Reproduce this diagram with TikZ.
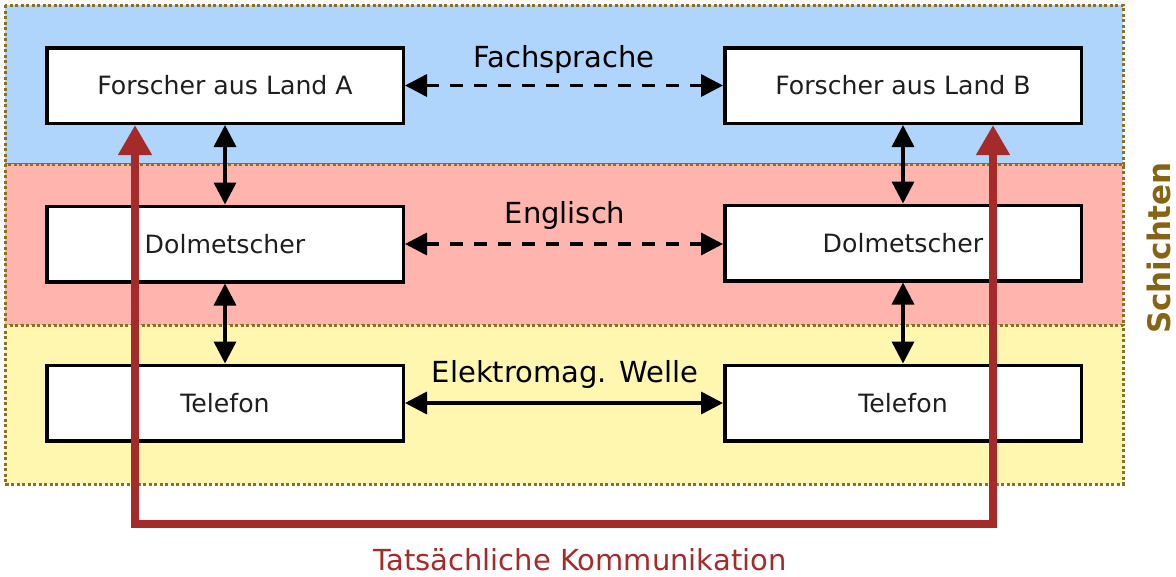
\documentclass[tikz,border=0pt]{standalone}
\usepackage{fontspec}
\setmainfont{DejaVu Sans}
\usetikzlibrary{arrows.meta}
\definecolor{layerblue}{RGB}{176,213,253}
\definecolor{layerred}{RGB}{255,180,174}
\definecolor{layeryellow}{RGB}{255,246,176}
\definecolor{layerborder}{RGB}{140,112,30}
\definecolor{realred}{RGB}{165,42,42}
\definecolor{schcol}{RGB}{135,100,20}
\begin{document}
\begin{tikzpicture}[x=1pt,y=-1pt,
  layer/.style={draw=layerborder, line width=3pt, dash pattern=on 3pt off 2.5pt},
  box/.style={draw=black, fill=white, line width=3.5pt, minimum width=356.5pt, minimum height=75.5pt, inner sep=0pt, font=\fontsize{25.2}{29}\selectfont, text=black!88},
  lbl/.style={font=\fontsize{29}{33}\selectfont, inner sep=0pt, anchor=base},
  link/.style={line width=3.5pt, {Triangle[length=22pt,width=22pt]}-{Triangle[length=22pt,width=22pt]}},
  dashlink/.style={link, dash pattern=on 13pt off 11pt},
  real/.style={draw=realred, line width=7.5pt, {Triangle[length=30pt,width=32pt]}-{Triangle[length=30pt,width=32pt]}}
]
\useasboundingbox (0,0) rectangle (1176,576);
% layers
\path[layer, fill=layerblue] (5,5) rectangle (1123,164);
\path[layer, fill=layerred] (5,164) rectangle (1123,325);
\path[layer, fill=layeryellow] (5,325) rectangle (1123,484);
% boxes
\node[box] (fa) at (225,85.5) {Forscher aus Land A};
\node[box] (fb) at (903,85.5) {Forscher aus Land B};
\node[box] (da) at (225,244) {Dolmetscher};
\node[box] (db) at (903,243) {Dolmetscher};
\node[box] (ta) at (225,403) {Telefon};
\node[box] (tb) at (903,403) {Telefon};
% labels
\node[lbl] (l1) at (564,67) {Fachsprache};
\node[lbl] (l2) at (565,223) {Englisch};
\node[lbl] (l3) at (565,382) {Elektromag. Welle};
\node[lbl, text=realred] (l4) at (580,570.5) {Tatsächliche Kommunikation};
\node[rotate=90, font=\fontsize{31}{35}\selectfont\bfseries, text=schcol, inner sep=0pt] (sch) at (1159,248) {Schichten};
% connectors
\draw[dashlink] (fa) -- (fb);
\draw[dashlink] (da) -- (da -| db.west);
\draw[link] (ta) -- (tb);
\draw[link] (fa) -- (da);
\draw[link] (da) -- (ta);
\draw[link] (fb) -- (db);
\draw[link] (db) -- (tb);
% actual communication
\coordinate (ra) at (135,524);
\coordinate (rb) at (993,524);
\draw[real] (fa.south -| ra) -- (ra) -- (rb) -- (fb.south -| rb);
\end{tikzpicture}
\end{document}
